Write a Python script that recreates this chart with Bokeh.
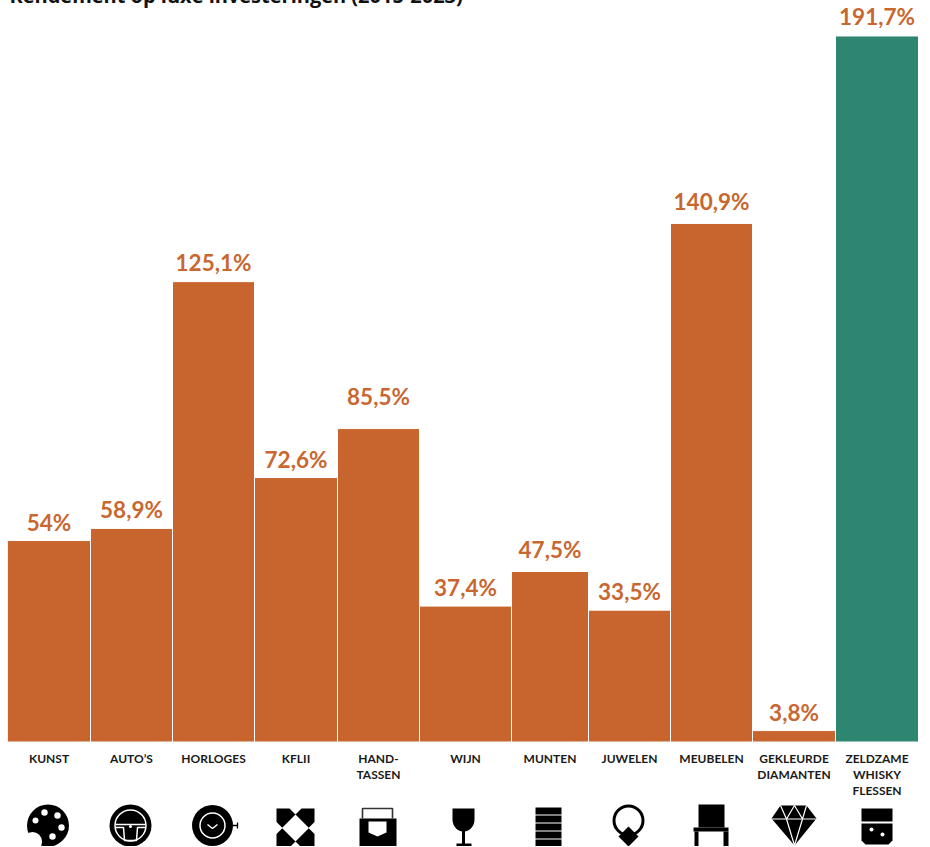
import numpy as np
from bokeh.plotting import figure
from bokeh.models import Range1d, ColumnDataSource
from bokeh.core.properties import value
from bokeh.embed import file_html
from bokeh.resources import INLINE

# ---- data ----
title_text = "Rendement op luxe investeringen (2015-2023)"
categories = ["KUNST", "AUTO\u2019S", "HORLOGES", "KFLII", "HAND-\nTASSEN", "WIJN", "MUNTEN",
              "JUWELEN", "MEUBELEN", "GEKLEURDE\nDIAMANTEN", "ZELDZAME\nWHISKY\nFLESSEN"]
value_labels = ["54%", "58,9%", "125,1%", "72,6%", "85,5%", "37,4%", "47,5%",
                "33,5%", "140,9%", "3,8%", "191,7%"]
bar_heights = [54.7, 58.0, 125.0, 71.8, 85.1, 36.9, 46.3, 35.8, 140.8, 3.1, 191.7]
bar_widths = [83, 82, 82, 83, 82, 92, 77, 82, 82, 83, 83]
bar_colors = ["#C8652E"] * 10 + ["#2E8570"]
LABEL_COLOR = "#C8672F"
FONT = "Lato"

# ---- layout: 1 x-unit = 1 px, frame spans page y -30..847 ----
W, H, TOP = 922, 877, -30
BASE_PX = 742.5
PX_PER_UNIT = 3.683
label_lift = [-5, -5, -6, -5, -19, -5, -8, -5, -8, -5, -6]

edges = np.concatenate([[0], np.cumsum(bar_widths)])
lefts, rights = edges[:-1], edges[1:]
centers = (lefts + rights) / 2

p = figure(width=W, height=H, output_backend="svg", toolbar_location=None,
           x_range=Range1d(0, W),
           y_range=Range1d((BASE_PX - 847) / PX_PER_UNIT, (BASE_PX - TOP) / PX_PER_UNIT),
           min_border=0, outline_line_color=None, background_fill_color="white")
p.extra_y_ranges = {"px": Range1d(847, TOP)}
p.margin = (-31, 0, -8, 7)
p.xaxis.visible = False
p.yaxis.visible = False
p.grid.visible = False

p.quad(left=lefts, right=rights, bottom=0, top=bar_heights,
       fill_color=bar_colors, line_color="white", line_width=1)

label_source = ColumnDataSource(dict(x=centers, y=bar_heights, text=value_labels, lift=label_lift))
p.text(x="x", y="y", text="text", source=label_source, text_font=value(FONT),
       text_font_style="bold", text_font_size="22.5px", text_color=LABEL_COLOR,
       text_align="center", text_baseline="bottom", y_offset="lift")

p.text(x=centers, y=[751] * len(categories), y_range_name="px", text=categories,
       text_font=value(FONT), text_font_style="bold", text_font_size="12px",
       text_color="#1a1a1a", text_align="center", text_baseline="top",
       text_line_height=1.08)

p.text(x=[2], y=[9], y_range_name="px", text=[title_text], text_font=value("Open Sans"),
       text_font_style="bold", text_font_size="20px", text_color="#111111",
       text_align="left", text_baseline="bottom")

# ---- pictograms (drawn in page pixels, relative to page x) ----
OX = 8
def poly(xs, ys, color="black"):
    p.patch([x - OX for x in xs], list(ys), fill_color=color, line_color=None, y_range_name="px")
def rect(x0, y0, x1, y1, color="black"):
    poly([x0, x1, x1, x0], [y0, y0, y1, y1], color)
def disc(cx, cy, r, color="black"):
    p.circle(x=[cx - OX], y=[cy], radius=r, fill_color=color, line_color=None, y_range_name="px")
def ring(cx, cy, r, lw, color="black"):
    p.circle(x=[cx - OX], y=[cy], radius=r, fill_color=None, line_color=color,
             line_width=lw, y_range_name="px")
def seg(xs, ys, lw, color="black"):
    p.line([x - OX for x in xs], ys, line_color=color, line_width=lw, y_range_name="px")
def diamond(cx, cy, h, color="black"):
    poly([cx - h, cx, cx + h, cx], [cy, cy - h, cy, cy + h], color)

# palette
disc(48.5, 826, 21)
disc(33, 842, 9.5, "white")
for cx, cy, r in [(45, 813, 3.2), (58, 816, 3.2), (36, 821, 3.0), (62, 828, 3.2), (53, 837, 3.2)]:
    disc(cx, cy, r, "white")
# steering wheel
disc(131, 826, 21)
ring(131, 826, 15.5, 1.5, "white")
seg([116, 146], [825, 825], 1.5, "white")
seg([116, 124, 125, 137, 138, 146], [828, 828, 841, 841, 828, 828], 1.5, "white")
disc(131, 827, 1.5, "white")
# watch
disc(213, 826, 20.5)
ring(213, 826, 12.5, 1.5, "white")
seg([208, 213, 218], [825, 829, 825], 1.5, "white")
seg([233, 238], [826, 826], 1.3)
seg([238, 238], [823, 829], 1.3)
# tiles
rect(277, 809, 315, 847)
diamond(296, 828.5, 13.5, "white")
for cx, cy in [(296, 809), (277, 828.5), (315, 828.5), (296, 848)]:
    diamond(cx, cy, 6, "white")
# handbag
rect(360, 819, 397, 847)
seg([363, 363, 393, 393], [819, 809, 809, 819], 1.6, "#333333")
poly([369, 387, 387, 378, 369], [822, 822, 833, 837, 833], "white")
# wine glass
th = np.linspace(0, np.pi, 16)
poly([453, 475] + list(464 + 11 * np.cos(th)), [809, 809] + list(820 + 12 * np.sin(th)))
rect(462.5, 830, 465.5, 846)
rect(457, 844, 472, 846.5)
# coins
for y0 in [808, 816, 824, 832, 840]:
    rect(536, y0, 562, y0 + 7)
# ring
ring(629, 821, 14.5, 3)
diamond(629, 837, 10)
# chair
rect(699, 805, 725, 828)
rect(694, 828, 729, 832)
rect(695, 832, 699, 848)
rect(724, 832, 729, 848)
# diamond
poly([781, 807, 817, 795, 772], [806, 806, 819, 846, 819])
seg([772, 817], [819.5, 819.5], 1.2, "white")
seg([781, 787, 795, 803, 807], [806, 819.5, 806, 819.5, 806], 1.2, "white")
seg([787, 795, 803], [819.5, 846, 819.5], 1.2, "white")
# tumbler
rect(862, 809, 893, 822)
poly([862, 893, 893, 889, 866, 862], [824, 824, 841, 845, 845, 841])
disc(872, 830, 2, "white")
disc(883, 835, 2, "white")

open("out.html", "w").write(file_html(p, INLINE))
